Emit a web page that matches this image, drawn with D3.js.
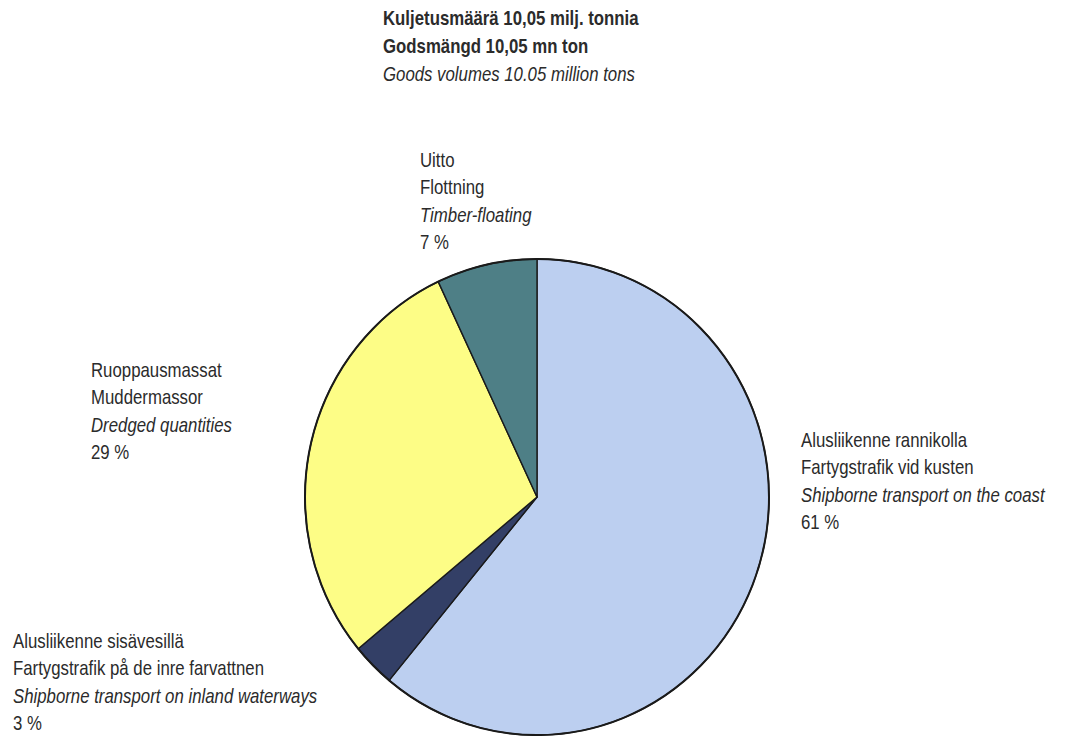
<!DOCTYPE html>
<html>
<head>
<meta charset="utf-8">
<script src="https://cdn.jsdelivr.net/npm/d3@7"></script>
<style>
  html, body { margin: 0; padding: 0; background: #fff; }
  svg text { font-family: "Liberation Sans Narrow", "Arial Narrow", "Liberation Sans", Arial, sans-serif; fill: #2b2b2b; }
</style>
</head>
<body>
<svg id="chart" width="1065" height="736"></svg>
<script>
// ---- data ----
const categories = ["coast", "inland", "dredged", "timber"];
const shares = [61, 3, 29, 7];
const colors = ["#bccff0", "#333f66", "#fdfd86", "#4e7f86"];
const labelFi = ["Alusliikenne rannikolla", "Alusliikenne sisävesillä", "Ruoppausmassat", "Uitto"];
const labelSv = ["Fartygstrafik vid kusten", "Fartygstrafik på de inre farvattnen", "Muddermassor", "Flottning"];
const labelEn = ["Shipborne transport on the coast", "Shipborne transport on inland waterways", "Dredged quantities", "Timber-floating"];
const titleLines = ["Kuljetusmäärä 10,05 milj. tonnia", "Godsmängd 10,05 mn ton", "Goods volumes 10.05 million tons"];

// ---- layout ----
const svg = d3.select("#chart");
const cx = 537, cy = 497, r = 232, sy = 1.026;
const titleSx = 0.84, labelSx = 0.84;

// title
const title = svg.append("g");
titleLines.forEach((t, i) => {
  title.append("text")
    .attr("transform", `translate(383,${25 + i * 28}) scale(${titleSx},1)`)
    .attr("font-size", 20)
    .attr("font-weight", i < 2 ? "bold" : "normal")
    .attr("font-style", i === 2 ? "italic" : "normal")
    .text(t);
});

// pie
const pie = d3.pie().sort(null).value(d => d)(shares);
const arc = d3.arc().innerRadius(0).outerRadius(r);
const g = svg.append("g").attr("transform", `translate(${cx},${cy}) scale(1,${sy})`);
g.selectAll("path.slice").data(pie).join("path")
  .attr("class", "slice")
  .attr("d", arc)
  .attr("fill", (d, i) => colors[i])
  .attr("stroke", "#1a1a1a")
  .attr("stroke-width", 1.4)
  .attr("stroke-linejoin", "round")
  .attr("vector-effect", "non-scaling-stroke");
g.append("circle").attr("r", r).attr("fill", "none")
  .attr("stroke", "#1a1a1a").attr("stroke-width", 2)
  .attr("vector-effect", "non-scaling-stroke");

// labels (anchor positions per slice)
const labelPos = [
  { x: 801, y: 447 },
  { x: 13, y: 648 },
  { x: 91, y: 377 },
  { x: 420, y: 167 }
];
const lh = 27.3;
categories.forEach((c, i) => {
  const lg = svg.append("g").attr("class", "label-" + c);
  const lines = [labelFi[i], labelSv[i], labelEn[i], shares[i] + " %"];
  lines.forEach((t, j) => {
    lg.append("text")
      .attr("transform", `translate(${labelPos[i].x},${labelPos[i].y + j * lh}) scale(${labelSx},1)`)
      .attr("font-size", 20)
      .attr("font-style", j === 2 ? "italic" : "normal")
      .text(t);
  });
});
</script>
</body>
</html>
